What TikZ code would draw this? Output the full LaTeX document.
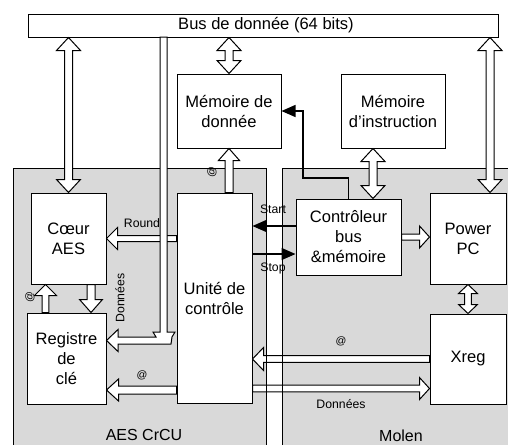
\documentclass[tikz,border=0pt]{standalone}
\usepackage{fontspec}
\setmainfont{Liberation Sans}
\usetikzlibrary{calc,arrows.meta}
\definecolor{regiongray}{HTML}{D9D9D9}

% single hollow arrow: tail, tip, shaft half width, head half width, head length
\newcommand\hollowone[5]{%
  \coordinate (hoH) at ($(#2)!#5!(#1)$);
  \filldraw[harrow] ($(#1)!#3!90:(#2)$) -- ($(hoH)!#3!90:(#2)$) -- ($(hoH)!#4!90:(#2)$) -- (#2)
    -- ($(hoH)!#4!-90:(#2)$) -- ($(hoH)!#3!-90:(#2)$) -- ($(#1)!#3!-90:(#2)$) -- cycle;}
% double hollow arrow
\newcommand\hollowtwo[5]{%
  \coordinate (htA) at ($(#1)!#5!(#2)$);
  \coordinate (htB) at ($(#2)!#5!(#1)$);
  \filldraw[harrow] (#1) -- ($(htA)!#4!90:(#2)$) -- ($(htA)!#3!90:(#2)$) -- ($(htB)!#3!90:(#2)$)
    -- ($(htB)!#4!90:(#2)$) -- (#2) -- ($(htB)!#4!-90:(#2)$) -- ($(htB)!#3!-90:(#2)$)
    -- ($(htA)!#3!-90:(#2)$) -- ($(htA)!#4!-90:(#2)$) -- cycle;}

\begin{document}
\begin{tikzpicture}[x=0.75pt,y=-0.75pt,
  box/.style={draw=black,fill=white,line width=0.75pt,inner sep=0pt,align=center,
    font=\fontsize{12.4}{15}\selectfont},
  harrow/.style={draw=black,fill=white,line width=0.75pt,line join=miter},
  sig/.style={draw=black,line width=1pt,-{Triangle[length=10.5pt,width=9pt]}},
  lbl/.style={inner sep=0pt,font=\fontsize{9.2}{11}\selectfont},
  atl/.style={inner sep=0pt,font=\fontsize{8}{10}\selectfont},
  region/.style={draw=black,fill=regiongray,line width=0.75pt},
  big/.style={inner sep=0pt,font=\fontsize{12}{14}\selectfont}]
\clip (0,0) rectangle (508,444);
\fill[white] (0,0) rectangle (508,444);

% regions
\filldraw[region] (13,168) rectangle (266,470);
\filldraw[region] (282,168) rectangle (530,470);

% boxes
\node[box,minimum width=352.5pt,minimum height=17.25pt] (bus) at (263,25.5) {};
\node[inner sep=0pt,font=\fontsize{12.4}{15}\selectfont] (bustext) at (266,25) {Bus de donnée (64 bits)};
\node[box,minimum width=78pt,minimum height=55.5pt] (md) at (229,111) {Mémoire de\\donnée};
\node[box,minimum width=78pt,minimum height=55.5pt] (mi) at (393,111) {Mémoire\\d’instruction};
\node[box,minimum width=56.25pt,minimum height=68.25pt] (cae) at (68.5,238.5) {Cœur\\AES};
\node[box,minimum width=59.25pt,minimum height=68.25pt] (reg) at (66.5,358.5) {Registre\\de\\clé};
\node[box,minimum width=56.25pt,minimum height=157.5pt] (uc) at (214.5,298) {Unité de\\contrôle};
\node[box,minimum width=78.75pt,minimum height=57pt] (ctrl) at (348.5,237) {Contrôleur\\bus\\\&mémoire};
\node[box,minimum width=57pt,minimum height=68.25pt] (ppc) at (468,238.5) {Power\\PC};
\node[box,minimum width=57pt,minimum height=67.5pt] (xreg) at (468,359) {Xreg};

% helper coordinates
\coordinate (xppc) at (490,0);
\coordinate (xmi) at (373,0);
\coordinate (xdn) at (91,0);
\coordinate (xup) at (45.5,0);
\coordinate (yreg) at (0,390);
\coordinate (ydon) at (0,388.5);
\coordinate (ystart) at (0,226);
\coordinate (ystop) at (0,254);

\coordinate (a1t) at (bus.south -| cae.north);
\coordinate (a1h) at (cae.north);
\coordinate (a2t) at (bus.south -| md.north);
\coordinate (a2h) at (md.north);
\coordinate (a3t) at (xppc |- bus.south);
\coordinate (a3h) at (xppc |- ppc.north);
\coordinate (a4t) at (xmi |- mi.south);
\coordinate (a4h) at (xmi |- ctrl.north);
\coordinate (a5t) at (ppc.south);
\coordinate (a5h) at (xreg.north);
\coordinate (b1t) at (ctrl.east);
\coordinate (b1h) at (ppc.west |- ctrl.east);
\coordinate (b2t) at (uc.west |- cae.east);
\coordinate (b2h) at (cae.east);
\coordinate (b3t) at (xdn |- cae.south);
\coordinate (b3h) at (xdn |- reg.north);
\coordinate (b4t) at (xup |- reg.north);
\coordinate (b4h) at (xup |- cae.south);
\coordinate (b5t) at (md.south |- uc.north);
\coordinate (b5h) at (md.south);
\coordinate (b6t) at (uc.west |- yreg);
\coordinate (b6h) at (reg.east |- yreg);
\coordinate (b7t) at (xreg.west);
\coordinate (b7h) at (uc.east |- xreg.west);
\coordinate (b8t) at (uc.east |- ydon);
\coordinate (b8h) at (xreg.west |- ydon);

% hollow connectors
\hollowtwo{a1t}{a1h}{3pt}{9pt}{9.75pt}
\hollowtwo{a2t}{a2h}{3pt}{9pt}{9.75pt}
\hollowtwo{a3t}{a3h}{3pt}{9pt}{9.75pt}
\hollowtwo{a4t}{a4h}{3pt}{9pt}{9.75pt}
\hollowtwo{a5t}{a5h}{2.6pt}{7.1pt}{6.75pt}
\hollowone{b1t}{b1h}{2.25pt}{8.25pt}{7.5pt}
\hollowone{b2t}{b2h}{2.25pt}{8.25pt}{8.25pt}
\hollowone{b3t}{b3h}{3pt}{8.6pt}{9.75pt}
\hollowone{b4t}{b4h}{2.6pt}{8.25pt}{8.25pt}
\hollowone{b5t}{b5h}{3pt}{7.9pt}{9pt}
\hollowone{b6t}{b6h}{3pt}{8.25pt}{9pt}
\hollowone{b7t}{b7h}{2.6pt}{8.6pt}{8.25pt}
\hollowone{b8t}{b8h}{2.6pt}{8.25pt}{7.5pt}

% bus channel down to the key register
\filldraw[harrow] (160,37) -- (160,332) -- (153,332) -- (156,337) -- (118,337) -- (118,329.5)
  -- (reg.east |- 0,340.5) -- (118,351.5) -- (118,344) -- (171,344) -- (172,337) -- (175,332)
  -- (167,332) -- (167,37) -- cycle;

% region borders along the strip
\draw[line width=0.75pt] (266,168) -- (266,444);
\draw[line width=0.75pt] (282,168) -- (282,444);

% signal lines
\coordinate (c1) at (303,178);
\draw[sig] (ctrl.north) |- (c1) |- (md.east);
\draw[sig] (ctrl.west |- ystart) -- (uc.east |- ystart);
\draw[sig] (uc.east |- ystop) -- (ctrl.west |- ystop);

% labels
\node[lbl] (lround) at (142,223) {Round};
\node[lbl,rotate=90] (ldon1) at (120,298) {Données};
\node[atl,rotate=90] (lat1) at (30,297) {@};
\node[atl,rotate=90] (lat2) at (212,172) {@};
\node[atl] (lat3) at (142,375) {@};
\node[lbl] (lstart) at (273,209) {Start};
\node[lbl] (lstop) at (273,268) {Stop};
\node[atl] (lat4) at (341,341) {@};
\node[lbl] (ldon2) at (341,404) {Données};
\node[big] (laes) at (144,435) {AES CrCU};
\node[big] (lmolen) at (401,436) {Molen};
\end{tikzpicture}
\end{document}
